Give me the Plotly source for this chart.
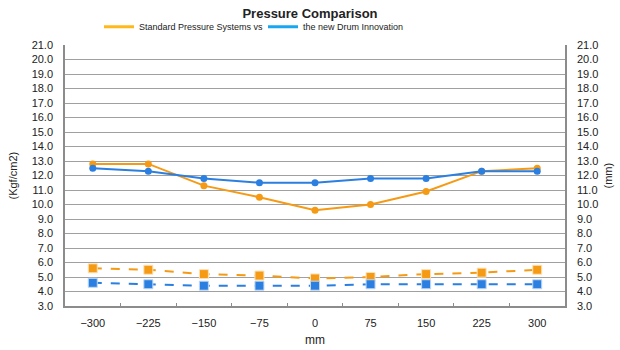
import plotly.graph_objects as go

positions = [-300, -225, -150, -75, 0, 75, 150, 225, 300]
std_pressure = [12.8, 12.8, 11.3, 10.5, 9.6, 10.0, 10.9, 12.3, 12.5]
drum_pressure = [12.5, 12.3, 11.8, 11.5, 11.5, 11.8, 11.8, 12.3, 12.3]
std_mm = [5.6, 5.5, 5.2, 5.1, 4.9, 5.0, 5.2, 5.3, 5.5]
drum_mm = [4.6, 4.5, 4.4, 4.4, 4.4, 4.5, 4.5, 4.5, 4.5]
boundaries = [-262.5, -187.5, -112.5, -37.5, 37.5, 112.5, 187.5, 262.5]

ORANGE = "#F59A14"
BLUE = "#2B7FE0"
FONT = "Liberation Sans, Arial, sans-serif"

fig = go.Figure()
fig.add_trace(go.Scatter(x=positions, y=std_pressure, mode="lines+markers",
                         line=dict(color=ORANGE, width=2), marker=dict(size=7, color=ORANGE),
                         showlegend=False))
fig.add_trace(go.Scatter(x=positions, y=drum_pressure, mode="lines+markers",
                         line=dict(color=BLUE, width=2), marker=dict(size=7, color=BLUE),
                         showlegend=False))
fig.add_trace(go.Scatter(x=positions, y=std_mm, mode="lines+markers", yaxis="y2",
                         line=dict(color=ORANGE, width=2, dash="dash"),
                         marker=dict(size=9, symbol="square", color=ORANGE,
                                     line=dict(color="#FDE3B8", width=1)),
                         showlegend=False))
fig.add_trace(go.Scatter(x=positions, y=drum_mm, mode="lines+markers", yaxis="y2",
                         line=dict(color=BLUE, width=2, dash="dash"),
                         marker=dict(size=9, symbol="square", color=BLUE,
                                     line=dict(color="#BFD8F5", width=1)),
                         showlegend=False))
# legend entries
fig.add_trace(go.Scatter(x=[None], y=[None], mode="lines", name="Standard Pressure Systems vs",
                         line=dict(color="#FFB81C", width=3)))
fig.add_trace(go.Scatter(x=[None], y=[None], mode="lines", name="the new Drum Innovation",
                         line=dict(color="#19A6F0", width=3)))

yax = dict(range=[3, 21], dtick=1, tick0=3, tickformat=".1f",
           showgrid=True, gridcolor="#A0A0A0", gridwidth=1,
           showline=True, linecolor="#8C8C8C", linewidth=1.5,
           ticks="", zeroline=False, ticklabelstandoff=8, automargin=False,
           tickfont=dict(family=FONT, size=11, color="#222"))

fig.update_layout(
    width=620, height=350,
    margin=dict(l=65, r=55, t=43, b=44),
    paper_bgcolor="white", plot_bgcolor="white",
    title=dict(text="<b>Pressure Comparison</b>", x=0.5, xanchor="center",
               y=0.962, yanchor="middle", font=dict(family=FONT, size=13, color="#222")),
    legend=dict(orientation="h", x=0.068, xanchor="left", y=1.07, yanchor="middle",
                font=dict(family=FONT, size=9, color="#222"), itemwidth=30,
                entrywidth=119, entrywidthmode="pixels",
                bgcolor="rgba(0,0,0,0)"),
    xaxis=dict(range=[-337.5, 337.5], tickvals=positions, ticks="",
               showgrid=False, zeroline=False, showline=True, automargin=False,
               linecolor="#8C8C8C", linewidth=1.5, ticklabelstandoff=6,
               tickfont=dict(family=FONT, size=11, color="#222"),
               minor=dict(tickvals=boundaries, ticks="inside", ticklen=3,
                          tickcolor="#8C8C8C", showgrid=False),
               title=dict(text="mm", font=dict(family=FONT, size=12, color="#222"),
                          standoff=8)),
    yaxis=dict(**yax),
    yaxis2=dict(**yax, overlaying="y", side="right"),
    annotations=[
        dict(text="(Kgf/cm2)", xref="paper", yref="paper", x=(12 - 65) / 500, y=0.5,
             textangle=-90, showarrow=False, xanchor="center", yanchor="middle",
             font=dict(family=FONT, size=11, color="#222")),
        dict(text="(mm)", xref="paper", yref="paper", x=(607 - 65) / 500, y=0.5,
             textangle=-90, showarrow=False, xanchor="center", yanchor="middle",
             font=dict(family=FONT, size=11, color="#222")),
    ],
)

fig.write_html("out.html")
